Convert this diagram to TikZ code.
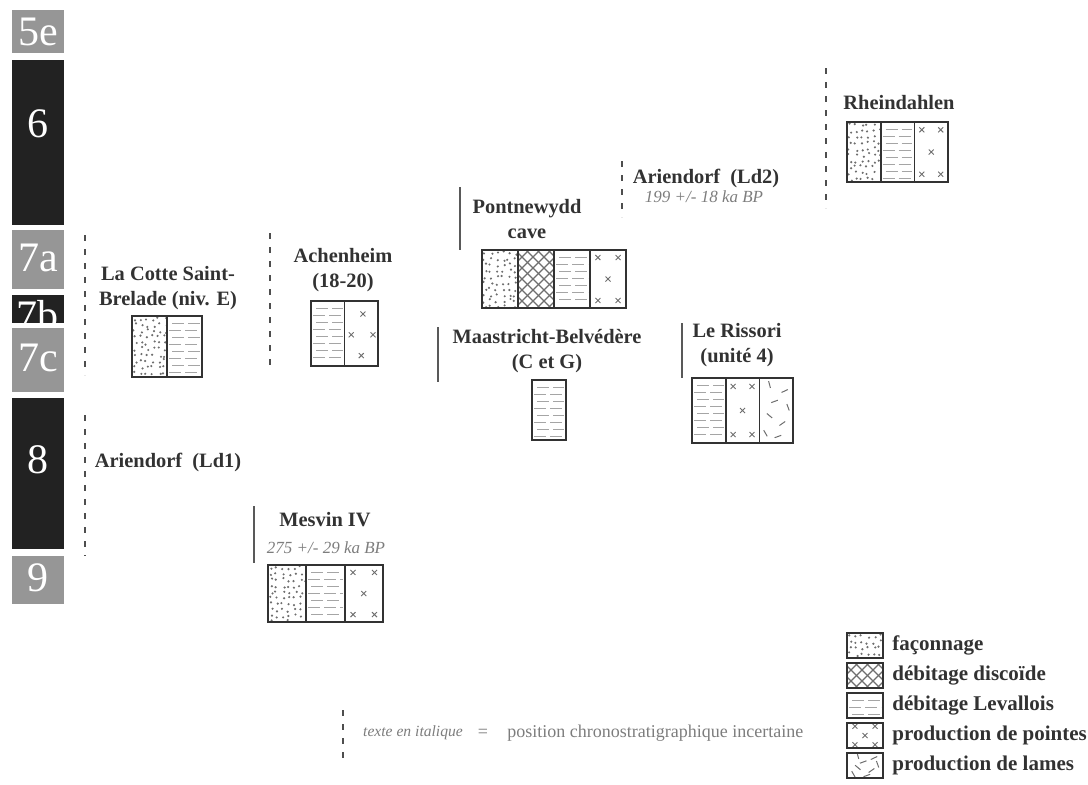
\documentclass[tikz,border=0pt]{standalone}
\usepackage{fontspec}
\setmainfont{Liberation Serif}
\usetikzlibrary{calc}
\definecolor{StageGray}{RGB}{150, 150, 150}
\definecolor{StageDark}{RGB}{34, 34, 34}
\definecolor{InkGray}{RGB}{50, 50, 50}
\definecolor{PatGray}{RGB}{110, 110, 110}
\definecolor{LevaGray}{RGB}{165, 165, 165}
\definecolor{DateGray}{RGB}{125, 125, 125}

\tikzset{
  stagelbl/.style={text=white, font=\fontsize{21}{23}\selectfont},
  sitelbl/.style={text=InkGray, font=\fontsize{10.2}{12.5}\selectfont\bfseries, align=center},
  datelbl/.style={text=DateGray, font=\fontsize{8.5}{10}\selectfont\itshape},
  legendlbl/.style={text=InkGray, font=\fontsize{10.5}{12}\selectfont\bfseries, anchor=west, inner sep=0pt},
  uncertain/.style={StageDark!80, line width=1.3pt, dash pattern=on 3pt off 4pt},
  certain/.style={StageDark!75, line width=1.1pt},
  cellframe/.style={InkGray, line width=0.9pt},
  patline/.style={PatGray, line width=0.35pt}
}

% patterns of one cell: x1, y1, x2, y2 (y counted downwards)
\newcommand{\patfac}[4]{%
  \begin{scope}
    \clip (#1,#2) rectangle (#3,#4);
    \pgfmathtruncatemacro{\nx}{((#3)-(#1))/6}
    \pgfmathtruncatemacro{\ny}{((#4)-(#2))/6}
    \foreach \i in {0,...,\nx}
      \foreach \j in {0,...,\ny}
        \fill[PatGray] ({(#1)+3+6*\i+2*rand},{(#2)+3+6*\j+2*rand}) circle (0.6pt);
  \end{scope}}
\newcommand{\patdisc}[4]{%
  \begin{scope}
    \clip (#1,#2) rectangle (#3,#4);
    \pgfmathsetmacro{\hh}{(#4)-(#2)}
    \pgfmathtruncatemacro{\nd}{((#3)-(#1)+\hh)/11+1}
    \foreach \i in {0,...,\nd} {
      \draw[patline, line width=0.55pt] ({(#1)-\hh+11*\i},#2) -- ++(\hh,\hh);
      \draw[patline, line width=0.55pt] ({(#1)-\hh+11*\i},#4) -- ++(\hh,-\hh);
    }
  \end{scope}}
\newcommand{\patleva}[4]{%
  \begin{scope}
    \clip (#1,#2) rectangle (#3,#4);
    \pgfmathtruncatemacro{\ny}{((#4)-(#2)-3)/7}
    \foreach \j in {1,...,\ny}
      \draw[LevaGray, line width=0.4pt, dash pattern=on 6pt off 2pt] ({(#1)+2+3*mod(\j,2)},{(#2)+7*\j}) -- ({(#3)-2},{(#2)+7*\j});
  \end{scope}}
\newcommand{\xmark}[2]{\draw[patline, line width=0.45pt] ({(#1)-2.5},{(#2)-2.5}) -- ({(#1)+2.5},{(#2)+2.5}) ({(#1)-2.5},{(#2)+2.5}) -- ({(#1)+2.5},{(#2)-2.5});}
\newcommand{\patpoint}[4]{%
  \foreach \ru/\rv in {0.22/0.13, 0.78/0.13, 0.5/0.5, 0.22/0.87, 0.78/0.87}
    \xmark{(#1)+\ru*((#3)-(#1))}{(#2)+\rv*((#4)-(#2))};}
\newcommand{\patpointd}[4]{%
  \foreach \ru/\rv in {0.55/0.2, 0.2/0.52, 0.85/0.52, 0.5/0.84}
    \xmark{(#1)+\ru*((#3)-(#1))}{(#2)+\rv*((#4)-(#2))};}
\newcommand{\patlame}[4]{%
  \foreach \ru/\rv/\ra in {0.3/0.1/75, 0.75/0.2/-25, 0.45/0.36/-20, 0.85/0.45/70, 0.3/0.58/40, 0.68/0.7/-35, 0.18/0.85/60, 0.55/0.9/-20}
    \draw[patline, line width=0.5pt] ({(#1)+\ru*((#3)-(#1))-3.5*cos(\ra)},{(#2)+\rv*((#4)-(#2))-3.5*sin(\ra)}) -- ++({7*cos(\ra)},{7*sin(\ra)});}

% row of cells: x, y, cell width, height, list of patterns
\newcommand{\techrow}[5]{%
  \foreach \pat [count=\k from 0] in {#5} {
    \pgfmathsetmacro{\xa}{#1+\k*#3}
    \pgfmathsetmacro{\xb}{#1+(\k+1)*#3}
    \pgfmathsetmacro{\yb}{#2+#4}
    \csname pat\pat\endcsname{\xa}{#2}{\xb}{\yb}
    \draw[cellframe] (\xa,#2) rectangle (\xb,\yb);
  }}

\begin{document}
\begin{tikzpicture}[x=0.5pt, y=-0.5pt]
  \pgfmathsetseed{3}
  \useasboundingbox (0,0) rectangle (1088,784);

  % --- isotope stages ---
  \foreach \lab/\ytop/\ybot/\col/\dy in {5e/10/53/StageGray/0, 6/60/225/StageDark/-19, 7a/230/289/StageGray/-2, 7b/295/323/StageDark/6, 7c/328/392/StageGray/-2, 8/398/549/StageDark/-14, 9/556/604/StageGray/-2} {
    \fill[\col] (12,\ytop) rectangle (64,\ybot);
    \begin{scope}
      \clip (12,\ytop) rectangle (64,\ybot);
      \node[stagelbl] (stage\lab) at (38,{(\ytop+\ybot)/2+\dy}) {\lab};
    \end{scope}
  }

  % --- La Cotte Saint-Brelade ---
  \draw[uncertain] (85,235) -- (85,375);
  \node[sitelbl] (cotte) at (168,288) {La Cotte Saint-\\Brelade (niv. E)};
  \techrow{132}{316}{35}{61}{fac,leva}

  % --- Achenheim ---
  \draw[uncertain] (270,233) -- (270,372);
  \node[sitelbl] (achen) at (343,270) {Achenheim\\(18-20)};
  \techrow{311}{301}{33.5}{65}{leva,pointd}

  % --- Ariendorf (Ld1) ---
  \draw[uncertain] (85,415) -- (85,556);
  \node[sitelbl] (arild1) at (168,462) {Ariendorf \ (Ld1)};

  % --- Mesvin IV ---
  \draw[certain] (254,506) -- (254,563);
  \node[sitelbl] (mesvin) at (325,520) {Mesvin IV};
  \node[datelbl] (mesvindate) at (326,548) {275 +/- 29 ka BP};
  \techrow{268}{565}{38.3}{57}{fac,leva,point}

  % --- Pontnewydd cave ---
  \draw[certain] (460,187) -- (460,250);
  \node[sitelbl] (pont) at (527,219) {Pontnewydd\\cave};
  \techrow{482}{250}{36}{58}{fac,disc,leva,point}

  % --- Ariendorf (Ld2) ---
  \draw[uncertain] (622,161) -- (622,217);
  \node[sitelbl] (arild2) at (706,178) {Ariendorf \ (Ld2)};
  \node[datelbl] (arild2date) at (704,197) {199 +/- 18 ka BP};

  % --- Rheindahlen ---
  \draw[uncertain] (826,68) -- (826,208);
  \node[sitelbl] (rhein) at (899,103) {Rheindahlen};
  \techrow{847}{122}{33.7}{60}{fac,leva,point}

  % --- Maastricht-Belvedere ---
  \draw[certain] (438,327) -- (438,382);
  \node[sitelbl] (maas) at (547,351) {Maastricht-Belvédère\\(C et G)};
  \techrow{532}{380}{34}{60}{leva}

  % --- Le Rissori ---
  \draw[certain] (682,323) -- (682,378);
  \node[sitelbl] (riss) at (737,345) {Le Rissori\\(unité 4)};
  \techrow{692}{378}{33.7}{65}{leva,point,lame}

  % --- legend ---
  \foreach \lp/\txt [count=\r from 0] in {fac/façonnage, disc/débitage discoïde, leva/débitage Levallois, point/production de pointes, lame/production de lames} {
    \pgfmathsetmacro{\ly}{633+30*\r}
    \techrow{847}{\ly}{36}{25}{\lp}
    \node[legendlbl] (leg\lp) at (892,\ly+12.5) {\txt};
  }
  \draw[uncertain] (343,710) -- (343,763);
  \node[text=DateGray, font=\fontsize{7.8}{9}\selectfont\itshape] (legital) at (413,733) {texte en italique};
  \node[text=DateGray, font=\fontsize{9}{10}\selectfont] (legeq) at (483,733) {=};
  \node[text=DateGray, font=\fontsize{9}{10}\selectfont, anchor=west, inner sep=0pt] (legpos) at (507,733) {position chronostratigraphique incertaine};

\end{tikzpicture}
\end{document}
